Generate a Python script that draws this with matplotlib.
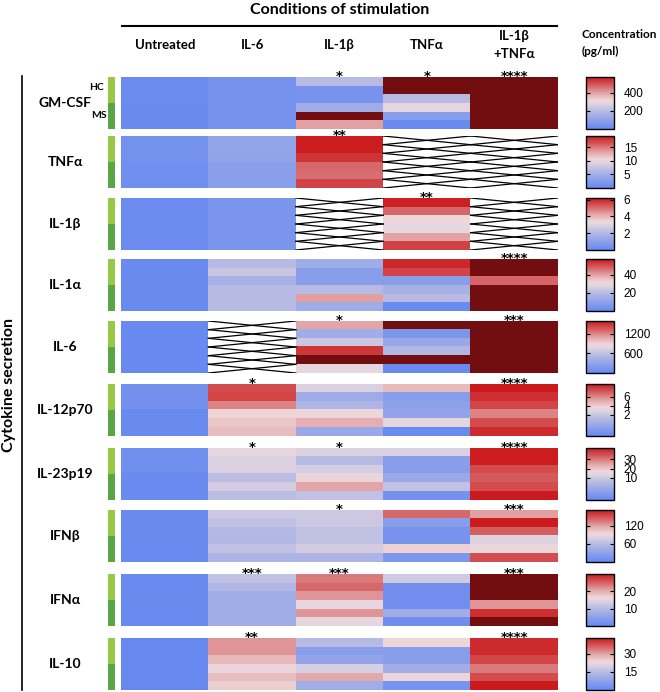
import numpy as np
import matplotlib
matplotlib.use('Agg')
import matplotlib.pyplot as plt
from matplotlib.colors import LinearSegmentedColormap, Normalize
from matplotlib.cm import ScalarMappable

nan = np.nan

## stimulation conditions (columns) and cytokines (blocks)
conditions = ['Untreated', 'IL-6', 'IL-1β', 'TNFα', 'IL-1β\n+TNFα']
cytokines = ['GM-CSF', 'TNFα', 'IL-1β', 'IL-1α', 'IL-6', 'IL-12p70', 'IL-23p19', 'IFNβ', 'IFNα', 'IL-10']

## values per condition, 6 donors each (3 HC then 3 MS), pg/ml
gm_csf = [[15, 15, 15, 12, 12, 12], [40, 40, 40, 38, 38, 38], [200, 45, 45, 145, 700, 400],
          [700, 700, 200, 290, 85, 10], [700, 700, 700, 700, 700, 700]]
tnfa = [[1.2, 1.2, 1.2, 1.0, 1.0, 1.0], [3.8, 3.8, 3.6, 3.0, 3.0, 3.0], [19, 19, 18, 15.7, 15.5, 17.3],
        [nan]*6, [nan]*6]
il1b = [[0.15]*6, [0.6]*6, [nan]*6, [6.1, 5.1, 3.4, 3.2, 4.3, 5.6], [nan]*6]
il1a = [[1]*6, [20, 23, 16, 20, 20, 20], [14, 8.5, 8.5, 20, 40, 14], [55, 51, 8.5, 16, 20, 1],
        [70, 70, 47, 70, 70, 70]]
il6 = [[20]*6, [nan]*6, [1075, 395, 660, 1470, 1900, 820], [1900, 160, 350, 505, 1900, 30],
       [1900]*6]
il12 = [[-2.1, -2.1, -2.1, -2.6, -2.6, -2.6], [7.5, 7.7, 6.1, 3.75, 4.2, 4.5], [2.7, 0, 0.9, 3.6, 4.9, -0.2],
        [4.6, -1.0, -0.8, -0.6, 3.05, -2.6], [8.9, 8.3, 7.7, 6.1, 7.5, 8.4]]
il23 = [[-12, -12, -12, -13.5, -13.5, -13.5], [15.1, 12.3, 12.3, 6, 10.6, 6], [12.3, 4.8, 11.1, 16.3, 24.3, 7.1],
        [12.3, -6, -6, -2, 7.1, -10.6], [42, 42, 35.7, 34, 35.7, 42.6]]
ifnb = [[3]*6, [72, 65, 58, 55, 65, 51], [72, 72, 65, 65, 75, 51], [140, 26, 14, 14, 97, 17],
        [120, 170, 144, 82, 92, 150]]
ifna = [[0.5]*6, [11.4, 9.6, 7.5, 7.5, 7.5, 7.5], [23.4, 24.6, 21.6, 15.6, 21.6, 15.6],
        [12.9, 1.5, 1.5, 1.5, 7.5, 1.5], [36, 36, 36, 21.6, 28.5, 36]]
il10 = [[0.5]*6, [31, 31, 27.5, 23.2, 26.7, 25], [15, 6.5, 8.2, 19.8, 29.2, 10.8],
        [24, 6.5, 6.5, 10.8, 23.2, 3.4], [41.3, 41.3, 38.3, 33.5, 37.8, 43]]
data = [gm_csf, tnfa, il1b, il1a, il6, il12, il23, ifnb, ifna, il10]

## colour scale range and ticks per cytokine
ranges = [(0, 575), (0, 19.2), (0, 6.2), (0, 57), (0, 1580), (-2.8, 8.9), (-14.6, 42.6), (0, 171), (0, 30), (0, 43)]
cbar_ticks = [[200, 400], [5, 10, 15], [2, 4, 6], [20, 40], [600, 1200], [2, 4, 6], [10, 20, 30],
              [60, 120], [10, 20], [15, 30]]

## significance marks: (block, column, text)
stars = [(0, 2, '*'), (0, 3, '*'), (0, 4, '****'), (1, 2, '**'), (2, 3, '**'), (3, 4, '****'),
         (4, 2, '*'), (4, 4, '***'), (5, 1, '*'), (5, 4, '****'), (6, 1, '*'), (6, 2, '*'), (6, 4, '****'),
         (7, 2, '*'), (7, 4, '***'), (8, 1, '***'), (8, 2, '***'), (8, 4, '***'), (9, 1, '**'), (9, 4, '****')]

W, H = 660, 692
fig = plt.figure(figsize=(W/100, H/100), dpi=100)
bold = dict(family=['Lato', 'DejaVu Sans'], fontweight='bold')

def px_axes(x0, y0, x1, y1):
    return fig.add_axes([x0/W, 1 - y1/H, (x1 - x0)/W, (y1 - y0)/H])

def ftext(x, y, s, **kw):
    fig.text(x/W, 1 - y/H, s, **kw)

cmap = LinearSegmentedColormap.from_list('bwr2', [(0, '#6688F0'), (0.35, '#B8BCE4'), (0.5, '#E4D6E0'),
                                                 (0.56, '#EED6D8'), (0.7, '#E2A0A2'), (0.85, '#D45A5C'),
                                                 (1, '#CB1A1D')])
cmap.set_over('#720E10')
cmap.set_bad('white')

tops = [77, 136, 198, 259, 321, 384, 448, 510, 574, 638]
bh = 52
hx0, hx1 = 121, 558
col_w = (hx1 - hx0) / 5

for i, name in enumerate(cytokines):
    top = tops[i]
    arr = np.array(data[i], dtype=float).T   # rows = donors, cols = conditions
    norm = Normalize(vmin=ranges[i][0], vmax=ranges[i][1])
    ax = px_axes(hx0, top, hx1, top + bh)
    ax.imshow(np.ma.masked_invalid(arr), cmap=cmap, norm=norm, aspect='auto', interpolation='nearest')
    # crossed cells where no value
    for r in range(arr.shape[0]):
        for c in range(arr.shape[1]):
            if np.isnan(arr[r, c]):
                ax.plot([c - 0.5, c + 0.5], [r - 0.5, r + 0.5], color='black', lw=0.9)
                ax.plot([c - 0.5, c + 0.5], [r + 0.5, r - 0.5], color='black', lw=0.9)
    ax.set_xlim(-0.5, 4.5)
    ax.set_ylim(5.5, -0.5)
    ax.axis('off')

    # HC / MS group bar
    fig.patches.append(plt.Rectangle((108/W, 1 - (top + bh/2)/H), 7/W, (bh/2)/H,
                                     transform=fig.transFigure, color='#97C947', lw=0))
    fig.patches.append(plt.Rectangle((108/W, 1 - (top + bh)/H), 7/W, (bh/2)/H,
                                     transform=fig.transFigure, color='#59A646', lw=0))

    ftext(65, top + bh/2, name, ha='center', va='center', fontsize=10, **bold)

    # colour bar
    cax = px_axes(586, top, 614, top + bh)
    cb = fig.colorbar(ScalarMappable(norm=norm, cmap=cmap), cax=cax, ticks=cbar_ticks[i])
    cb.outline.set_linewidth(1.0)
    cax.tick_params(direction='in', length=3, width=0.8, left=True, right=True, labelsize=8.5, pad=7)
    for t in cax.get_yticklabels():
        t.set_family(['Liberation Sans', 'DejaVu Sans'])
        t.set_linespacing(0.9)

for b, c, s in stars:
    ftext(hx0 + col_w * (c + 0.5), tops[b] + 3, s, ha='center', va='baseline', fontsize=9.5,
          fontweight='bold', family='DejaVu Sans')

ftext(97, 87, 'HC', ha='center', va='center', fontsize=7.5, **bold)
ftext(99, 115, 'MS', ha='center', va='center', fontsize=7.5, **bold)

# header
ftext(340, 10, 'Conditions of stimulation', ha='center', va='center', fontsize=11.5, **bold)
fig.add_artist(plt.Line2D([122/W, 557/W], [1 - 26/H, 1 - 26/H], color='black', lw=1.5))
for j, cond in enumerate(conditions):
    ftext(hx0 + col_w * (j + 0.5), 45, cond, ha='center', va='center', fontsize=9.5,
          linespacing=1.5, **bold)
ftext(582, 43, 'Concentration\n(pg/ml)', ha='left', va='center', fontsize=8.5, linespacing=1.6, **bold)

# left side label
fig.add_artist(plt.Line2D([22/W, 22/W], [1 - 76/H, 1 - 690/H], color='black', lw=1.2))
ftext(9, 385, 'Cytokine secretion', ha='center', va='center', rotation=90, fontsize=11.5, **bold)

plt.savefig('out.png', dpi=100)
